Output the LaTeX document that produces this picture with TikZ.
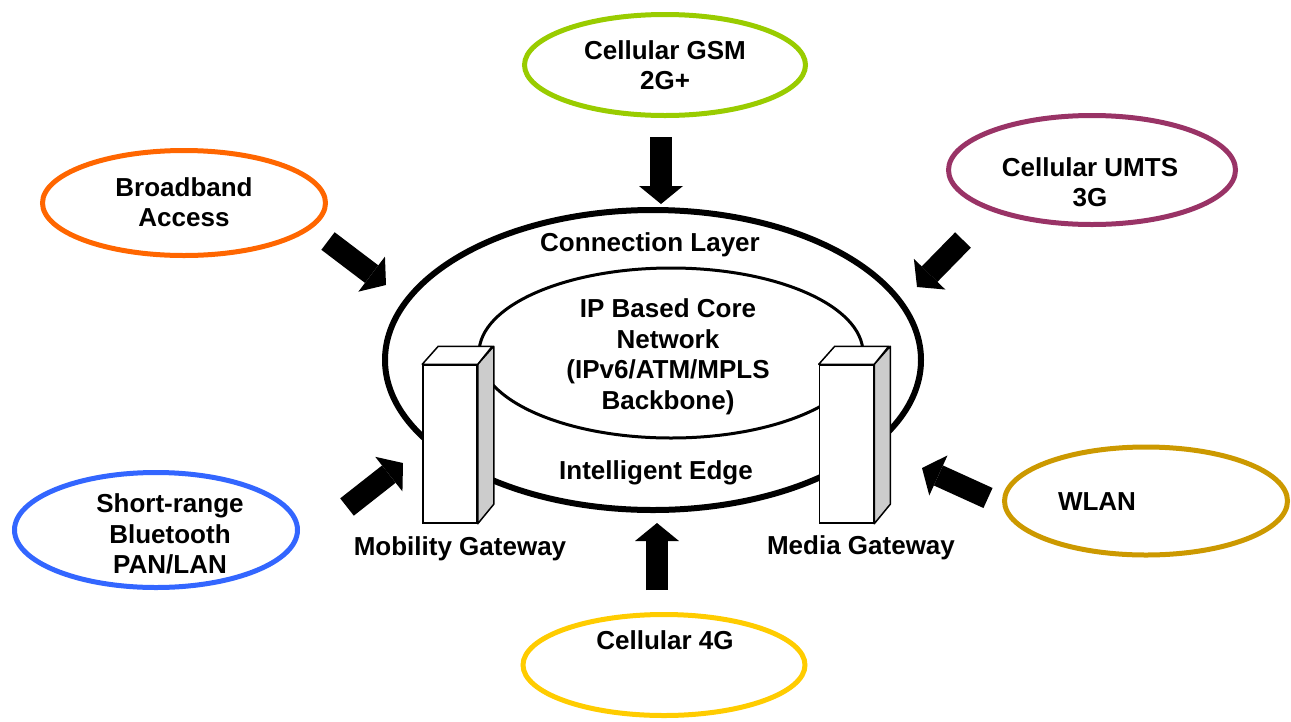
\documentclass[tikz,border=0pt]{standalone}
\usepackage{fontspec}
\setmainfont{Liberation Sans}
\usetikzlibrary{positioning, shapes.geometric, arrows.meta}
\definecolor{gsmgreen}{HTML}{99CC00}
\definecolor{bborange}{HTML}{FF6600}
\definecolor{umtsred}{HTML}{993366}
\definecolor{btblue}{HTML}{3366FF}
\definecolor{wlangold}{HTML}{CC9900}
\definecolor{fgyellow}{HTML}{FFCC00}

\begin{document}
\begin{tikzpicture}[x=1pt, y=-1pt,
    ring/.style={ellipse, draw, line width=5pt, inner sep=0pt},
    lbl/.style={font=\bfseries\fontsize{26}{30.5}\selectfont, align=center},
    bigarrow/.style={line width=22pt, -{Triangle[length=18pt, width=44pt, line width=0pt]}},
    gw/.style={draw, line width=1.5pt, fill=white, minimum width=54pt, minimum height=158pt, inner sep=0pt},
    gwside/.style={draw, line width=1.5pt, line join=round, fill=#1}]
    \useasboundingbox (0,0) rectangle (1291,721);

    % core network
    \node[ring, line width=6pt, minimum width=536pt, minimum height=300pt] (conn) at (653,360) {};
    \node[ring, line width=3pt, minimum width=384pt, minimum height=170pt] (core) at (671,353) {};
    \node[lbl] (connlbl) at (650,245) {Connection Layer};
    \node[lbl] (corelbl) at (668,357) {IP Based Core\\Network\\(IPv6/ATM/MPLS\\Backbone)};
    \node[lbl] (edgelbl) at (656,473) {Intelligent Edge};

    % gateways
    \node[gw] (mgw) at (450,444) {};
    \draw[gwside=gray!40] (mgw.north east) -- ++(16,-18) -- ++(0,158) -- (mgw.south east) -- cycle;
    \draw[gwside=white] (mgw.north west) -- ++(16,-18) -- ++(54,0) -- (mgw.north east) -- cycle;
    \node[gw] (dgw) at (846.5,444) {};
    \draw[gwside=gray!40] (dgw.north east) -- ++(16,-18) -- ++(0,158) -- (dgw.south east) -- cycle;
    \draw[gwside=white] (dgw.north west) -- ++(16,-18) -- ++(54,0) -- (dgw.north east) -- cycle;
    \node[lbl] (mgwlbl) at (460,549) {Mobility Gateway};
    \node[lbl] (dgwlbl) at (861,548) {Media Gateway};

    % access networks
    \node[ring, draw=gsmgreen, minimum width=281pt, minimum height=101pt] (gsm) at (665,65) {};
    \node[lbl] (gsmlbl) at (665,65) {Cellular GSM\\2G+};
    \node[ring, draw=bborange, minimum width=283pt, minimum height=105pt] (bb) at (184,203) {};
    \node[lbl] (bblbl) at (184,202) {Broadband\\Access};
    \node[ring, draw=umtsred, minimum width=287pt, minimum height=109pt] (umts) at (1092,170) {};
    \node[lbl] (umtslbl) at (1090,182) {Cellular UMTS\\3G};
    \node[ring, draw=btblue, minimum width=283pt, minimum height=115pt] (bt) at (156,530) {};
    \node[lbl] (btlbl) at (170,534) {Short-range\\Bluetooth\\PAN/LAN};
    \node[ring, draw=wlangold, minimum width=283pt, minimum height=108pt] (wlan) at (1146,501) {};
    \node[lbl] (wlanlbl) at (1097,502) {WLAN};
    \node[ring, draw=fgyellow, minimum width=282pt, minimum height=101pt] (fg) at (664,665) {};
    \node[lbl] (fglbl) at (665,640) {Cellular 4G};

    % arrows into the connection layer
    \coordinate (gsm-s) at (661,137);
    \coordinate (gsm-e) at (661,204);
    \coordinate (bb-s) at (328,241);
    \coordinate (bb-e) at (386,285);
    \coordinate (umts-s) at (963,240);
    \coordinate (umts-e) at (917,287);
    \coordinate (bt-s) at (347,507);
    \coordinate (bt-e) at (403,463);
    \coordinate (wlan-s) at (988,498);
    \coordinate (wlan-e) at (922,468);
    \coordinate (fg-s) at (657,590);
    \coordinate (fg-e) at (657,523);
    \foreach \n in {gsm, bb, umts, bt, wlan, fg}
        \draw[bigarrow] (\n-s) -- (\n-e);
\end{tikzpicture}
\end{document}
